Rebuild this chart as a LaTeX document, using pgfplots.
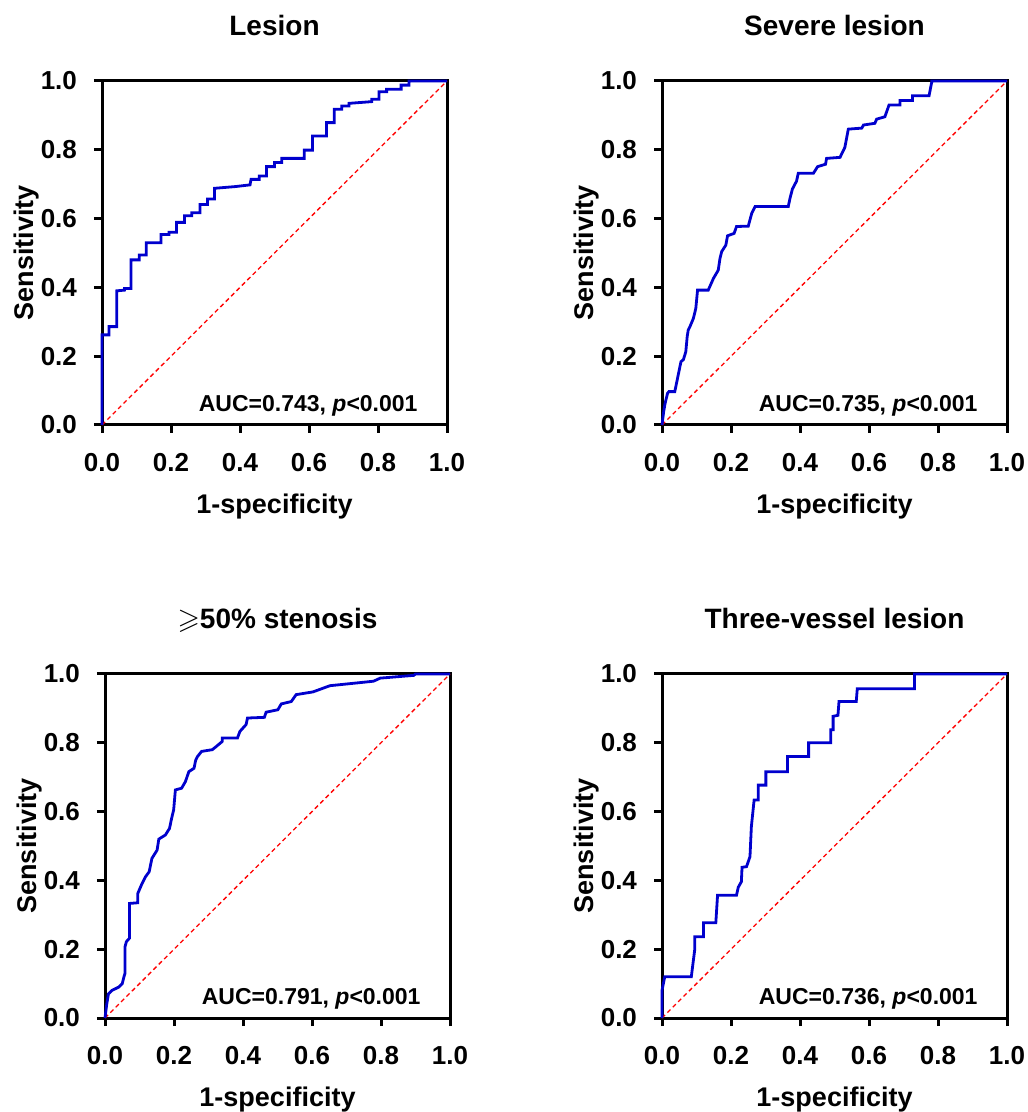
\documentclass[border=0pt]{standalone}
\usepackage{amssymb}
\usepackage{fontspec}
\setmainfont{Liberation Sans}
\usepackage{pgfplots}
\pgfplotsset{compat=1.18}

\definecolor{rocblue}{RGB}{0,0,205}

\pgfplotsset{
  roc/.style={
    scale only axis, width=172.5pt, height=172pt,
    xmin=0, xmax=1, ymin=0, ymax=1,
    xtick={0,0.2,...,1.0}, ytick={0,0.2,...,1.0},
    xtick pos=lower, ytick pos=left,
    tick align=outside, major tick length=4pt,
    tick style={black, line width=1.5pt},
    axis line style={black, line width=1.5pt},
    clip=false,
    /pgf/number format/.cd, fixed, fixed zerofill, precision=1, assume math mode=true,
    /pgfplots/.cd,
    tick label style={font=\fontsize{13}{15}\selectfont\bfseries},
    xticklabel style={yshift=-6.5pt},
    yticklabel style={xshift=-5pt},
    label style={font=\fontsize{13.5}{16}\selectfont\bfseries},
    title style={font=\fontsize{14}{16}\selectfont\bfseries, at={(axis description cs:0.5,1.098)}, anchor=base},
    xlabel style={at={(axis description cs:0.5,-0.256)}, anchor=base},
    ylabel style={at={(axis description cs:-0.2,0.5)}, anchor=base},
    xlabel={1-specificity}, ylabel={Sensitivity},
  },
  curve/.style={rocblue, line width=1.4pt, line join=miter},
  ref/.style={red, line width=0.65pt, dash pattern=on 2.2pt off 1.6pt},
}
\newcommand{\auc}[1]{\node[anchor=base east, font=\fontsize{11.5}{13}\selectfont\bfseries] at (axis description cs:0.935,0.038) {AUC=#1, \textit{p}<0.001};}

\begin{document}
\begin{tikzpicture}
\path[use as bounding box] (0,0) rectangle (513.5pt,556pt);

% Lesion
\begin{axis}[roc, at={(51pt,343.5pt)}, anchor=south west, title={Lesion}]
\addplot[ref] coordinates {(0,0) (1,1)};
\addplot[curve] coordinates {
(0,0) (0,0.262) (0.02,0.262) (0.02,0.286) (0.043,0.286) (0.043,0.39) (0.065,0.392) (0.065,0.397)
(0.084,0.397) (0.084,0.48) (0.108,0.48) (0.108,0.494) (0.128,0.494) (0.128,0.53) (0.171,0.53)
(0.171,0.554) (0.194,0.554) (0.194,0.56) (0.216,0.56) (0.216,0.589) (0.239,0.589) (0.239,0.608)
(0.26,0.608) (0.26,0.617) (0.284,0.617) (0.284,0.641) (0.306,0.641) (0.306,0.657) (0.326,0.657)
(0.326,0.688) (0.386,0.693) (0.429,0.698) (0.432,0.714) (0.456,0.714) (0.456,0.724) (0.477,0.724)
(0.477,0.751) (0.5,0.751) (0.5,0.763) (0.521,0.763) (0.521,0.775) (0.586,0.775) (0.586,0.799)
(0.61,0.799) (0.61,0.84) (0.651,0.84) (0.651,0.879) (0.673,0.879) (0.673,0.918) (0.695,0.918)
(0.695,0.927) (0.716,0.927) (0.716,0.935) (0.782,0.94) (0.782,0.947) (0.803,0.947) (0.803,0.969)
(0.825,0.969) (0.825,0.976) (0.867,0.976) (0.867,0.988) (0.89,0.988) (0.89,1) (1,1)};
\auc{0.743}
\end{axis}

% Severe lesion
\begin{axis}[roc, at={(331pt,343.5pt)}, anchor=south west, title={Severe lesion}]
\addplot[ref] coordinates {(0,0) (1,1)};
\addplot[curve] coordinates {
(0,0) (0.005,0.04) (0.009,0.063) (0.016,0.092) (0.02,0.097) (0.037,0.097) (0.042,0.121)
(0.052,0.17) (0.055,0.184) (0.062,0.19) (0.069,0.213) (0.073,0.257) (0.076,0.276) (0.081,0.286)
(0.091,0.31) (0.098,0.339) (0.103,0.392) (0.134,0.392) (0.149,0.426) (0.163,0.45) (0.168,0.484)
(0.173,0.504) (0.185,0.523) (0.19,0.55) (0.209,0.557) (0.216,0.577) (0.25,0.578) (0.26,0.615)
(0.27,0.635) (0.366,0.635) (0.371,0.659) (0.378,0.686) (0.39,0.709) (0.395,0.732) (0.439,0.732)
(0.451,0.751) (0.474,0.758) (0.477,0.775) (0.516,0.778) (0.53,0.807) (0.54,0.86) (0.579,0.863)
(0.584,0.872) (0.617,0.877) (0.622,0.889) (0.646,0.896) (0.658,0.93) (0.69,0.93) (0.69,0.943)
(0.726,0.943) (0.726,0.957) (0.774,0.957) (0.782,0.998) (0.782,1) (1,1)};
\auc{0.735}
\end{axis}

% >=50% stenosis
\begin{axis}[roc, at={(52.5pt,47pt)}, anchor=south west, title={{\Large$\geqslant$}50\% stenosis}]
\addplot[ref] coordinates {(0,0) (1,1)};
\addplot[curve] coordinates {
(0,0) (0.005,0.04) (0.01,0.07) (0.02,0.08) (0.04,0.09) (0.05,0.1) (0.055,0.12) (0.058,0.13)
(0.058,0.207) (0.062,0.222) (0.071,0.232) (0.071,0.333) (0.095,0.335) (0.095,0.362) (0.107,0.39)
(0.117,0.41) (0.128,0.425) (0.136,0.464) (0.151,0.488) (0.156,0.52) (0.175,0.532) (0.187,0.551)
(0.193,0.58) (0.199,0.605) (0.204,0.663) (0.222,0.668) (0.233,0.687) (0.243,0.716) (0.258,0.726)
(0.263,0.75) (0.268,0.76) (0.28,0.775) (0.311,0.78) (0.321,0.788) (0.34,0.804) (0.34,0.814)
(0.384,0.814) (0.391,0.833) (0.409,0.853) (0.413,0.872) (0.462,0.874) (0.467,0.889) (0.501,0.896)
(0.511,0.913) (0.54,0.92) (0.554,0.94) (0.603,0.948) (0.652,0.966) (0.73,0.974) (0.778,0.979)
(0.798,0.988) (0.895,0.996) (0.9,1) (1,1)};
\auc{0.791}
\end{axis}

% Three-vessel lesion
\begin{axis}[roc, at={(331pt,47pt)}, anchor=south west, title={Three-vessel lesion}]
\addplot[ref] coordinates {(0,0) (1,1)};
\addplot[curve] coordinates {
(0,0) (0,0.08) (0.008,0.12) (0.085,0.12) (0.09,0.16) (0.095,0.2) (0.095,0.236) (0.12,0.236)
(0.12,0.277) (0.156,0.277) (0.161,0.357) (0.216,0.357) (0.221,0.38) (0.23,0.396) (0.232,0.438)
(0.245,0.44) (0.255,0.469) (0.259,0.556) (0.267,0.634) (0.279,0.634) (0.279,0.677) (0.301,0.677)
(0.301,0.716) (0.364,0.716) (0.364,0.76) (0.425,0.76) (0.425,0.8) (0.489,0.8) (0.489,0.838)
(0.496,0.838) (0.496,0.877) (0.51,0.88) (0.513,0.92) (0.563,0.92) (0.566,0.957) (0.732,0.957)
(0.732,1) (1,1)};
\auc{0.736}
\end{axis}
\end{tikzpicture}
\end{document}
